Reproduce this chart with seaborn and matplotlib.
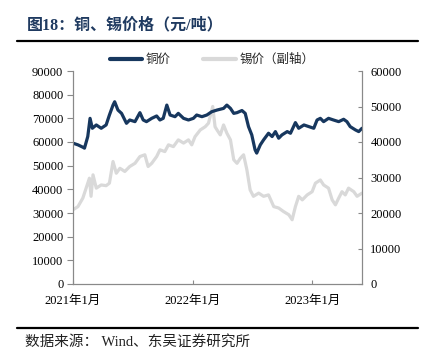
import matplotlib
matplotlib.use("Agg")
import matplotlib.pyplot as plt
from matplotlib.lines import Line2D
import seaborn as sns
import pandas as pd

copper_dates = ["2021-01-01","2021-01-16","2021-01-31","2021-02-05","2021-02-15","2021-02-22","2021-03-01",
    "2021-03-13","2021-03-28","2021-04-12","2021-04-22","2021-05-03","2021-05-08","2021-05-18","2021-05-29",
    "2021-06-13","2021-06-23","2021-07-09","2021-07-24","2021-08-03","2021-08-13","2021-08-29","2021-09-13",
    "2021-09-23","2021-10-03","2021-10-14","2021-10-24","2021-11-08","2021-11-18","2021-12-04","2021-12-19",
    "2022-01-03","2022-01-13","2022-01-29","2022-02-13","2022-02-28","2022-03-16","2022-04-05","2022-04-15",
    "2022-04-26","2022-05-06","2022-05-16","2022-05-31","2022-06-10","2022-06-20","2022-06-30","2022-07-10",
    "2022-07-15","2022-07-26","2022-08-05","2022-08-20","2022-08-31","2022-09-10","2022-09-20","2022-09-30",
    "2022-10-16","2022-10-26","2022-11-10","2022-11-20","2022-12-06","2022-12-21","2023-01-05","2023-01-15",
    "2023-01-25","2023-02-04","2023-02-19","2023-03-06","2023-03-22","2023-04-06","2023-04-16","2023-04-26",
    "2023-05-12","2023-05-22","2023-06-01"]
copper_values = [59500,58800,57800,57400,62300,70000,65800,67200,65800,67200,71400,75600,77000,73500,72100,
    67900,69300,68600,72400,69300,68600,70000,71000,69300,70000,75600,71400,70700,72100,70000,69300,
    70000,71400,70700,71400,72800,73500,74200,75600,74200,72100,72400,73300,72100,66500,63000,56700,
    55300,58800,60900,63700,62300,64400,61600,63000,64400,63700,68200,65800,67200,66500,65800,69300,
    70000,68600,70000,69300,68600,69600,68600,66500,65100,64400,65800]

tin_dates = ["2021-01-01","2021-01-16","2021-01-31","2021-02-10","2021-02-20","2021-02-25","2021-03-03",
    "2021-03-13","2021-03-28","2021-04-12","2021-04-22","2021-05-03","2021-05-13","2021-05-24","2021-06-08",
    "2021-06-23","2021-07-09","2021-07-24","2021-08-08","2021-08-18","2021-08-29","2021-09-13","2021-09-23",
    "2021-10-08","2021-10-19","2021-11-03","2021-11-18","2021-12-04","2021-12-19","2021-12-29","2022-01-08",
    "2022-01-24","2022-02-08","2022-02-18","2022-03-03","2022-03-10","2022-03-16","2022-03-26","2022-04-05",
    "2022-04-15","2022-04-26","2022-05-06","2022-05-16","2022-05-26","2022-06-05","2022-06-15","2022-06-25",
    "2022-07-05","2022-07-21","2022-08-05","2022-08-20","2022-09-05","2022-09-20","2022-10-05","2022-10-21",
    "2022-10-31","2022-11-10","2022-11-20","2022-12-01","2022-12-16","2022-12-31","2023-01-10","2023-01-25",
    "2023-02-04","2023-02-19","2023-03-02","2023-03-12","2023-03-22","2023-04-01","2023-04-11","2023-04-21",
    "2023-05-07","2023-05-17","2023-06-01"]
tin_values = [20900,21800,24200,27000,29800,24700,30750,27000,27900,27700,28400,34500,31200,32600,31700,
    33100,34000,35900,36400,33100,34000,35900,37800,37300,39200,38700,40600,39700,40600,39200,41500,
    43400,44300,45300,50000,44300,43400,42000,44800,42500,40600,35000,34000,35400,36400,32200,26500,
    24700,25600,24700,25100,21800,21400,20400,19500,18100,21800,24700,23700,25100,26000,28400,29300,
    27900,27000,23700,22300,24200,26000,25100,27000,26000,24700,25600]

copper_label = "铜价"
tin_label = "锡价（副轴）"
title_text = "图18：铜、锡价格（元/吨）"
source_text = "数据来源： Wind、东吴证券研究所"
x_ticks = ["2021-01-01", "2022-01-01", "2023-01-01"]
x_tick_labels = ["2021年1月", "2022年1月", "2023年1月"]

sns.set_style("white")
plt.rcParams["font.family"] = ["Liberation Serif", "Noto Sans CJK SC"]
plt.rcParams["axes.unicode_minus"] = False

copper_df = pd.DataFrame({"date": pd.to_datetime(copper_dates), "value": copper_values})
tin_df = pd.DataFrame({"date": pd.to_datetime(tin_dates), "value": tin_values})

fig = plt.figure(figsize=(4.23, 3.5), dpi=100)
ax = fig.add_axes([73/423, 1-284/350, (362-73)/423, (284-71)/350])
ax2 = ax.twinx()

copper_color = "#17375E"
tin_color = "#D9D9D9"

sns.lineplot(data=tin_df, x="date", y="value", ax=ax2, color=tin_color, lw=2.3, legend=False)
sns.lineplot(data=copper_df, x="date", y="value", ax=ax, color=copper_color, lw=2.3, legend=False)
ax.set_zorder(ax2.get_zorder() + 1)
ax.patch.set_visible(False)

ax.set_ylim(0, 90000)
ax2.set_ylim(0, 60000)
ax.set_yticks(range(0, 90001, 10000))
ax2.set_yticks(range(0, 60001, 10000))
ax.set_xlim(pd.Timestamp("2021-01-01"), pd.Timestamp("2023-06-01"))
ax.set_xticks(pd.to_datetime(x_ticks))
ax.set_xticklabels(x_tick_labels)
ax.set_xlabel("")
ax.set_ylabel("")
ax2.set_ylabel("")

spine_color = "#898989"
for a in (ax, ax2):
    a.spines["top"].set_visible(False)
    for s in ("left", "right", "bottom"):
        a.spines[s].set_color(spine_color)
        a.spines[s].set_linewidth(0.8)
ax.tick_params(axis="y", direction="out", length=4, color=spine_color, labelsize=9, pad=3, left=True)
ax.tick_params(axis="x", direction="in", length=3, color=spine_color, labelsize=9, pad=8, bottom=True)
ax2.tick_params(axis="y", direction="in", length=3, color=spine_color, labelsize=9, pad=6, right=True)
for lab in ax.get_yticklabels() + ax2.get_yticklabels() + ax.get_xticklabels():
    lab.set_color("#000000")

handles = [Line2D([0], [0], color=copper_color, lw=3),
           Line2D([0], [0], color=tin_color, lw=3)]
fig.legend(handles, [copper_label, tin_label], loc="center", ncol=2,
           bbox_to_anchor=(212/423, 1-60/350), frameon=False, fontsize=9,
           handlelength=2.6, handletextpad=0.3, columnspacing=2.6)

fig.text(27/423, 1-25/350, title_text, fontsize=11.5, fontweight="bold", color="#1F3A60",
         va="center", ha="left")
fig.add_artist(Line2D([17/423, 418/423], [1-41/350, 1-41/350], color="black", lw=1.6,
                      transform=fig.transFigure))
fig.add_artist(Line2D([17/423, 418/423], [1-328/350, 1-328/350], color="black", lw=1.6,
                      transform=fig.transFigure))
fig.text(25/423, 1-342/350, source_text, fontsize=10.5, color="#222222", va="center", ha="left")

fig.savefig("out.png", dpi=100)
